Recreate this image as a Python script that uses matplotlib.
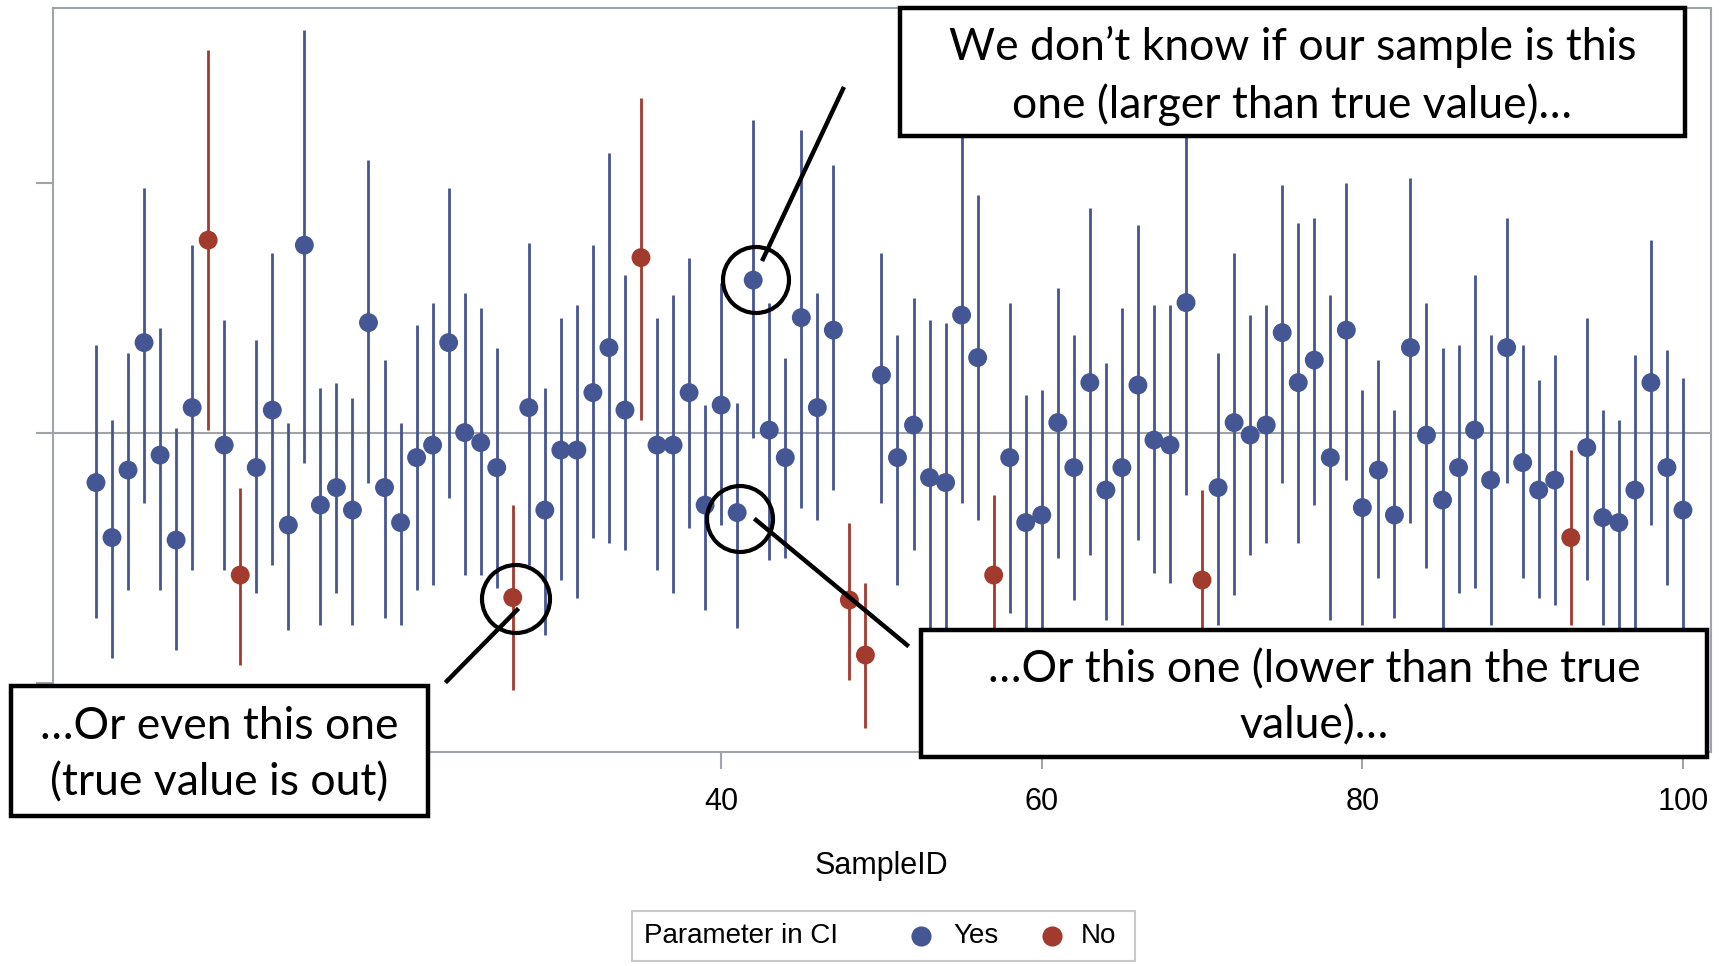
import numpy as np
import matplotlib.pyplot as plt
from matplotlib.patches import Rectangle, Ellipse
from matplotlib.lines import Line2D

# Sample data (true value at 0)
sample_id = np.arange(1, 101)
mean = [-0.20, -0.42, -0.15, 0.36, -0.09, -0.43, 0.10, 0.77, -0.05, -0.57,
        -0.14, 0.09, -0.37, 0.75, -0.29, -0.22, -0.31, 0.44, -0.22, -0.36,
        -0.10, -0.05, 0.36, 0.00, -0.04, -0.14, -0.66, 0.10, -0.31, -0.07,
        -0.07, 0.16, 0.34, 0.09, 0.70, -0.05, -0.05, 0.16, -0.29, 0.11,
        -0.32, 0.61, 0.01, -0.10, 0.46, 0.10, 0.41, -0.67, -0.89, 0.23,
        -0.10, 0.03, -0.18, -0.20, 0.47, 0.30, -0.57, -0.10, -0.36, -0.33,
        0.04, -0.14, 0.20, -0.23, -0.14, 0.19, -0.03, -0.05, 0.52, -0.59,
        -0.22, 0.04, -0.01, 0.03, 0.40, 0.20, 0.29, -0.10, 0.41, -0.30,
        -0.15, -0.33, 0.34, -0.01, -0.27, -0.14, 0.01, -0.19, 0.34, -0.12,
        -0.23, -0.19, -0.42, -0.06, -0.34, -0.36, -0.23, 0.20, -0.14, -0.31]
lower = [-0.74, -0.90, -0.63, -0.28, -0.63, -0.87, -0.55, 0.01, -0.55, -0.93,
         -0.64, -0.53, -0.79, -0.12, -0.77, -0.64, -0.77, -0.20, -0.74, -0.77,
         -0.63, -0.61, -0.26, -0.57, -0.57, -0.62, -1.03, -0.53, -0.81, -0.59,
         -0.66, -0.42, -0.44, -0.47, 0.05, -0.55, -0.64, -0.38, -0.71, -0.37,
         -0.78, -0.02, -0.51, -0.50, -0.30, -0.35, -0.23, -0.99, -1.18, -0.28,
         -0.61, -0.47, -0.81, -0.84, -0.28, -0.35, -0.89, -0.72, -0.87, -0.83,
         -0.50, -0.67, -0.49, -0.75, -0.77, -0.43, -0.56, -0.60, -0.25, -0.95,
         -0.77, -0.65, -0.49, -0.44, -0.20, -0.44, -0.29, -0.75, -0.19, -0.77,
         -0.58, -0.74, -0.36, -0.54, -0.88, -0.64, -0.62, -0.77, -0.20, -0.58,
         -0.66, -0.69, -0.77, -0.59, -0.77, -0.78, -0.78, -0.37, -0.61, -0.85]
upper = [0.35, 0.05, 0.32, 0.98, 0.42, 0.02, 0.75, 1.53, 0.45, -0.22,
         0.37, 0.72, 0.04, 1.61, 0.18, 0.20, 0.14, 1.09, 0.29, 0.04,
         0.43, 0.52, 0.98, 0.56, 0.50, 0.34, -0.29, 0.76, 0.18, 0.46,
         0.51, 0.75, 1.12, 0.63, 1.34, 0.46, 0.55, 0.70, 0.11, 0.60,
         0.12, 1.25, 0.52, 0.30, 1.21, 0.56, 1.07, -0.36, -0.60, 0.72,
         0.39, 0.54, 0.45, 0.44, 1.22, 0.95, -0.25, 0.52, 0.15, 0.17,
         0.58, 0.39, 0.90, 0.28, 0.50, 0.83, 0.51, 0.51, 1.28, -0.23,
         0.32, 0.72, 0.47, 0.51, 0.99, 0.84, 0.86, 0.55, 1.00, 0.17,
         0.29, 0.09, 1.02, 0.52, 0.34, 0.35, 0.63, 0.39, 0.86, 0.35,
         0.21, 0.31, -0.07, 0.46, 0.09, 0.05, 0.31, 0.77, 0.33, 0.22]
not_in_ci = [8, 10, 27, 35, 48, 49, 57, 70, 93]
true_value = 0.0

BLUE = '#445694'
RED = '#A23A2E'
GREY = '#A0A4A8'

W, H = 1729, 966
fig = plt.figure(figsize=(W / 100, H / 100), dpi=100)
ax = fig.add_axes([53 / W, 1 - 752 / H, (1710.7 - 53) / W, (752 - 8.2) / H])

colors = [RED if s in not_in_ci else BLUE for s in sample_id]

ax.axhline(true_value, color=GREY, lw=1.5, zorder=1)
ax.vlines(sample_id, lower, upper, colors=colors, lw=2.0, zorder=2)
ax.scatter(sample_id, mean, c=colors, s=185, edgecolors='none', zorder=3)

ax.set_xlim(-1.68, 101.73)
ax.set_ylim(-1.278, 1.698)
# ticks at 0 and 20 sit under the lower-left note box anyway
ax.set_xticks([40, 60, 80, 100])
ax.set_yticks([-1, 0, 1])
ax.set_yticklabels([])
for sp in ax.spines.values():
    sp.set_color(GREY)
    sp.set_linewidth(1.5)
ax.tick_params(length=12, width=1.5, color=GREY, labelsize=22, pad=13)
for lab in ax.get_xticklabels():
    lab.set_family('Liberation Sans')
ax.set_xlabel('SampleID', fontsize=22, family='Liberation Sans', labelpad=25)


def fx(px):
    return px / W


def fy(py):
    return 1 - py / H


def box(x0, y0, x1, y1, text, fs=32):
    fig.add_artist(Rectangle((fx(x0), fy(y1)), fx(x1) - fx(x0), fy(y0) - fy(y1),
                             transform=fig.transFigure, facecolor='white',
                             edgecolor='black', lw=3.2, zorder=10))
    fig.text(fx((x0 + x1) / 2), fy((y0 + y1) / 2 + 4), text, ha='center', va='center',
             fontsize=fs, family='Lato', linespacing=1.45, zorder=11)


def line(x0, y0, x1, y1):
    fig.add_artist(Line2D([fx(x0), fx(x1)], [fy(y0), fy(y1)], transform=fig.transFigure,
                          color='black', lw=3.2, zorder=9))


def ring(cx, cy, r):
    fig.add_artist(Ellipse((fx(cx), fy(cy)), 2 * r / W, 2 * r / H, transform=fig.transFigure,
                           facecolor='none', edgecolor='black', lw=3.0, zorder=9))


# annotations
ring(756, 280, 33)
ring(740, 519, 33)
ring(516, 599, 34)
line(843, 89, 763, 259)
line(756, 520, 907, 645)
line(517, 610, 447, 681)

box(900, 8, 1685, 136, 'We don\u2019t know if our sample is this\none (larger than true value)\u2026')
box(921, 630, 1707, 757, '\u2026Or this one (lower than the true\nvalue)\u2026')
box(11, 686, 428, 816, '\u2026Or even this one\n(true value is out)')

# legend
fig.add_artist(Rectangle((fx(632), fy(961)), fx(1135) - fx(632), fy(911) - fy(961),
                         transform=fig.transFigure, facecolor='white',
                         edgecolor='#C8C8C8', lw=1.5, zorder=10))
fig.text(fx(644), fy(936), 'Parameter in CI', ha='left', va='center', fontsize=20,
         family='Liberation Sans', zorder=11)
fig.add_artist(Line2D([fx(921)], [fy(936)], marker='o', ms=13.5, color=BLUE, lw=0,
                      transform=fig.transFigure, zorder=11))
fig.text(fx(953), fy(936), 'Yes', ha='left', va='center', fontsize=20,
         family='Liberation Sans', zorder=11)
fig.add_artist(Line2D([fx(1052)], [fy(936)], marker='o', ms=13.5, color=RED, lw=0,
                      transform=fig.transFigure, zorder=11))
fig.text(fx(1081), fy(936), 'No', ha='left', va='center', fontsize=20,
         family='Liberation Sans', zorder=11)

fig.savefig('out.png', dpi=100)
